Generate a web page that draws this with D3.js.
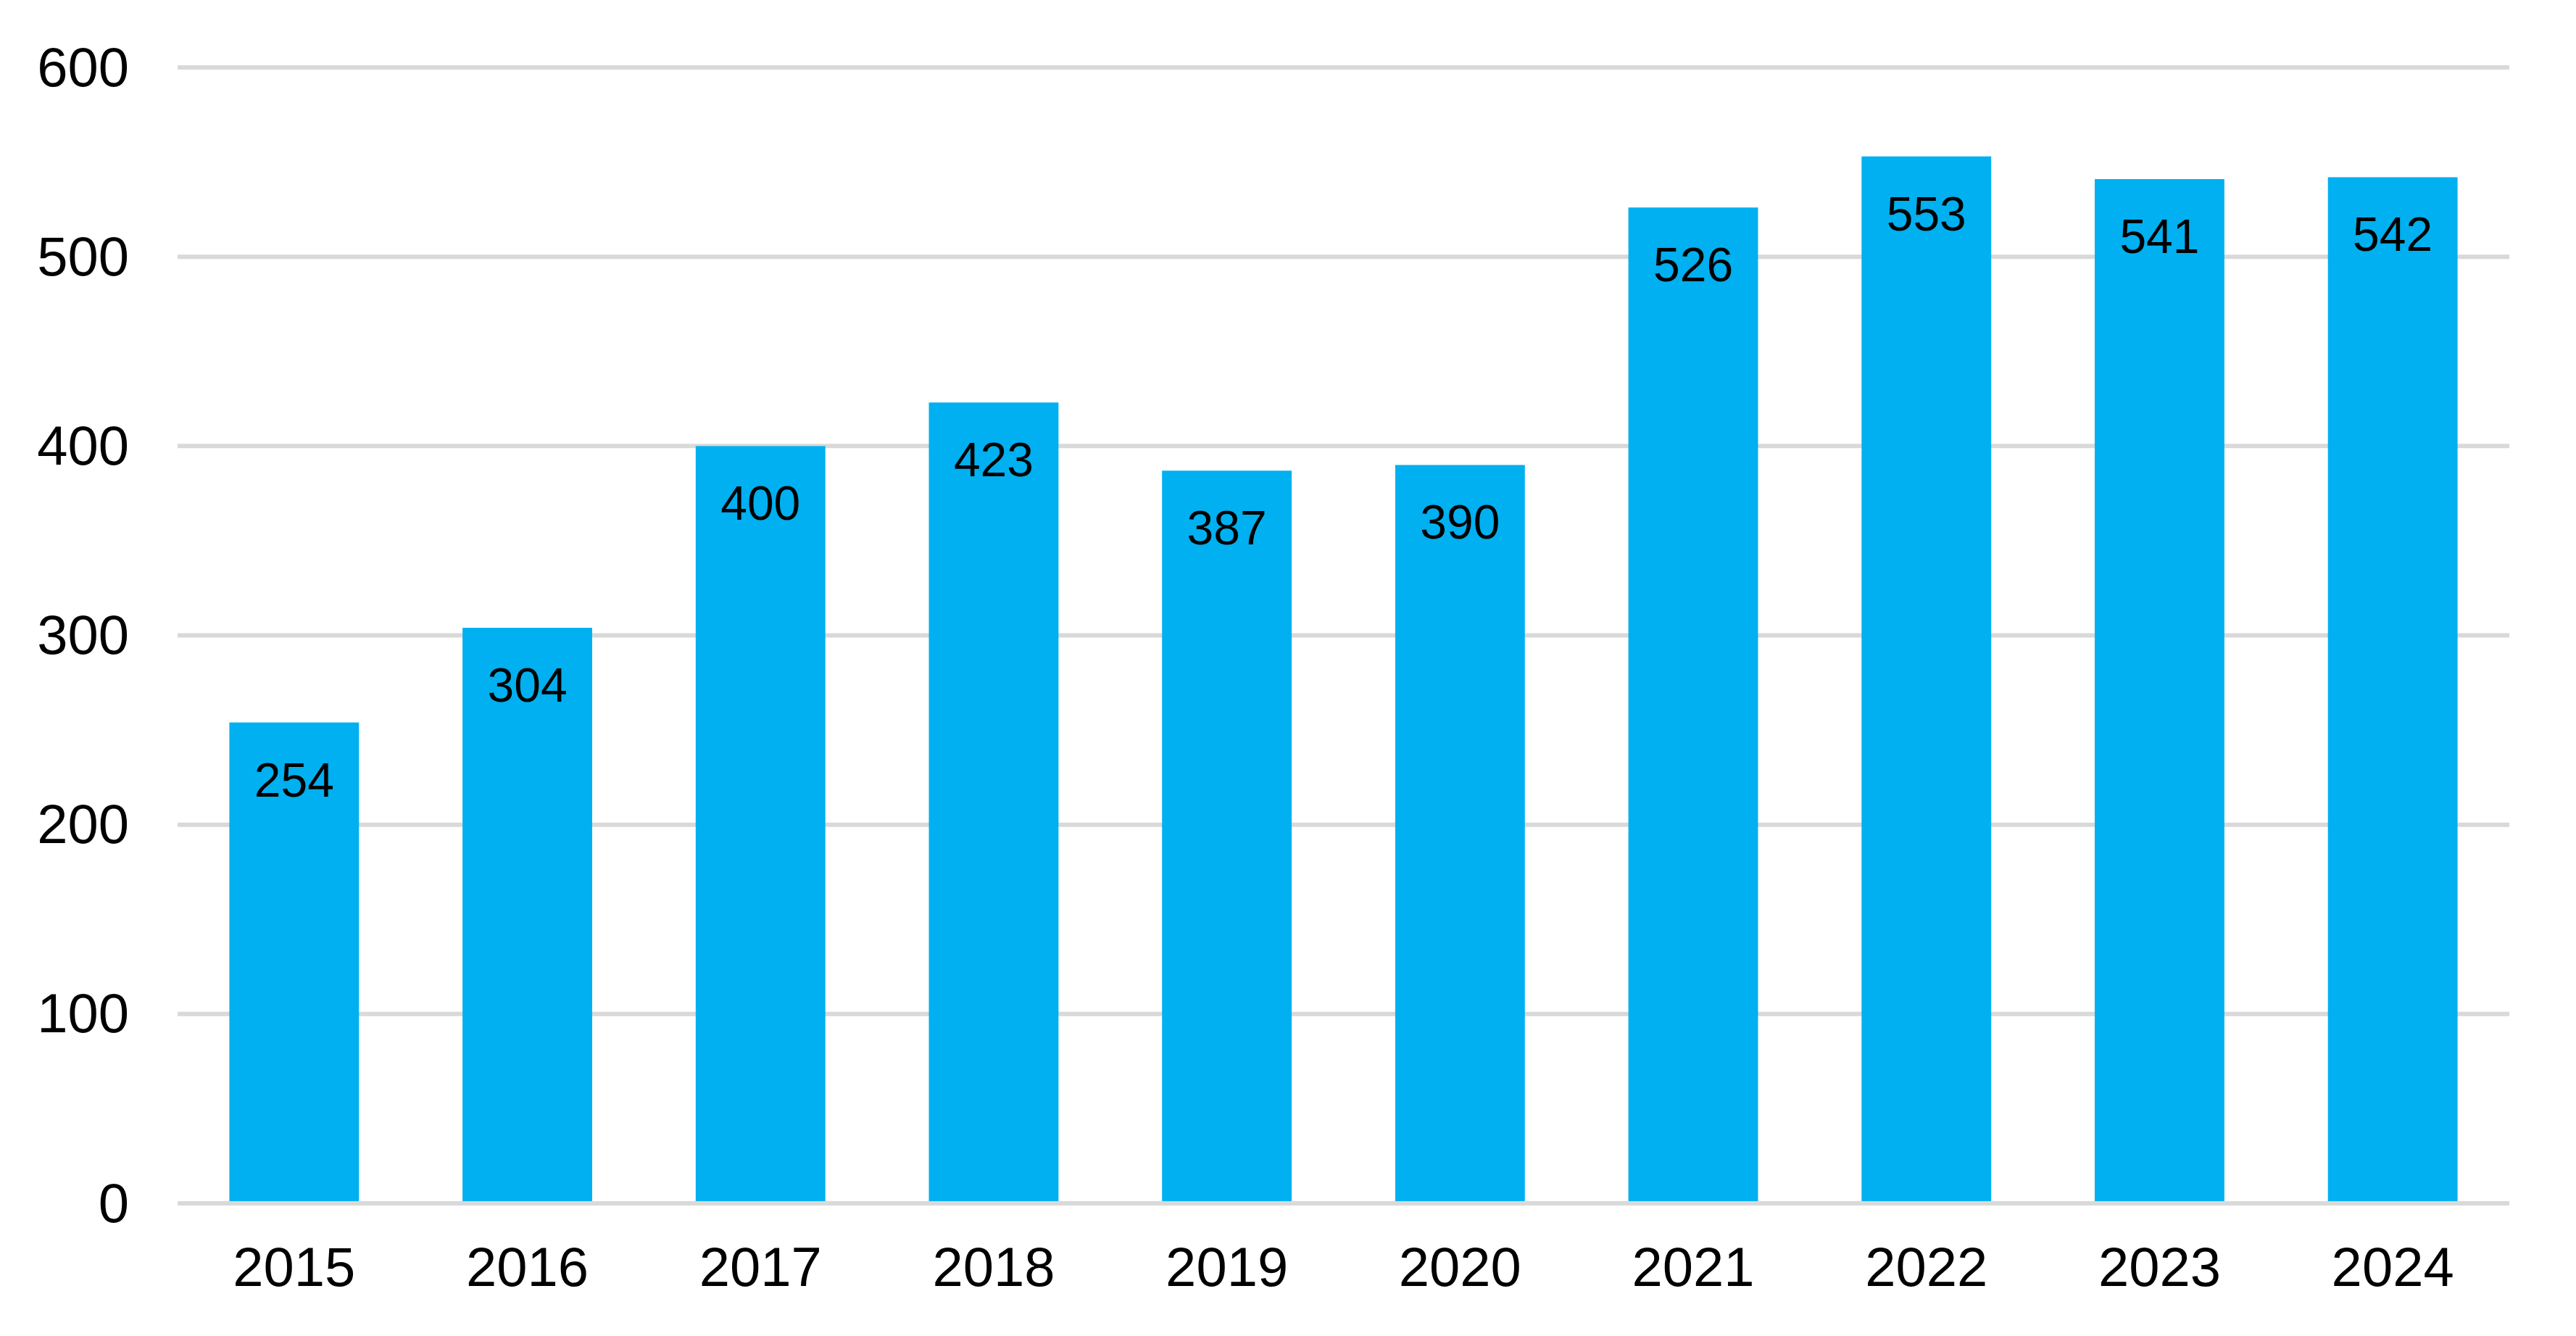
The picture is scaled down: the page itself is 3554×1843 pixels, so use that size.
<!DOCTYPE html>
<html>
<head>
<meta charset="utf-8">
<script src="https://cdn.jsdelivr.net/npm/d3@7"></script>
<style>
  html, body { margin: 0; padding: 0; background: #ffffff; }
  svg { display: block; }
</style>
</head>
<body>
<svg id="chart" width="3554" height="1843"></svg>
<script>
const categories = ["2015", "2016", "2017", "2018", "2019", "2020", "2021", "2022", "2023", "2024"];
const values = [254, 304, 400, 423, 387, 390, 526, 553, 541, 542];
const yTicks = [0, 100, 200, 300, 400, 500, 600];

const W = 3554, H = 1843;
const margin = { left: 245, right: W - 3462, top: 93, bottom: H - 1660 };
const svg = d3.select("#chart");
const font = "'Liberation Sans', Arial, sans-serif";

const x = d3.scaleBand()
  .domain(categories)
  .range([margin.left, W - margin.right])
  .paddingInner(0.444)
  .paddingOuter(0.222);

const y = d3.scaleLinear()
  .domain([0, 600])
  .range([H - margin.bottom, margin.top]);

// gridlines
svg.append("g")
  .selectAll("line")
  .data(yTicks)
  .join("line")
  .attr("x1", margin.left)
  .attr("x2", W - margin.right)
  .attr("y1", d => y(d))
  .attr("y2", d => y(d))
  .attr("stroke", "#D9D9D9")
  .attr("stroke-width", 6);

// bars
svg.append("g")
  .selectAll("rect")
  .data(values)
  .join("rect")
  .attr("x", (d, i) => x(categories[i]))
  .attr("width", x.bandwidth())
  .attr("y", d => y(d))
  .attr("height", d => y(0) - y(d) - 3)
  .attr("fill", "#00B0F0");

// data labels
svg.append("g")
  .selectAll("text")
  .data(values)
  .join("text")
  .attr("x", (d, i) => x(categories[i]) + x.bandwidth() / 2)
  .attr("y", d => y(d) + 102)
  .attr("text-anchor", "middle")
  .attr("font-family", font)
  .attr("font-size", 66)
  .attr("fill", "#000")
  .text(d => d);

// y axis labels
const yAxis = d3.axisLeft(y).tickValues(yTicks).tickSize(0).tickPadding(67);
const gy = svg.append("g")
  .attr("transform", `translate(${margin.left},0)`)
  .call(yAxis);
gy.select(".domain").remove();
gy.selectAll("text")
  .attr("font-family", font)
  .attr("font-size", 76)
  .attr("fill", "#000")
  .attr("dy", "0.33em");

// x axis labels
const xAxis = d3.axisBottom(x).tickSize(0).tickPadding(0);
const gx = svg.append("g")
  .attr("transform", `translate(0,${H - margin.bottom})`)
  .call(xAxis);
gx.select(".domain").remove();
gx.selectAll("text")
  .attr("font-family", font)
  .attr("font-size", 76)
  .attr("fill", "#000")
  .attr("dy", null)
  .attr("y", 114);
</script>
</body>
</html>
